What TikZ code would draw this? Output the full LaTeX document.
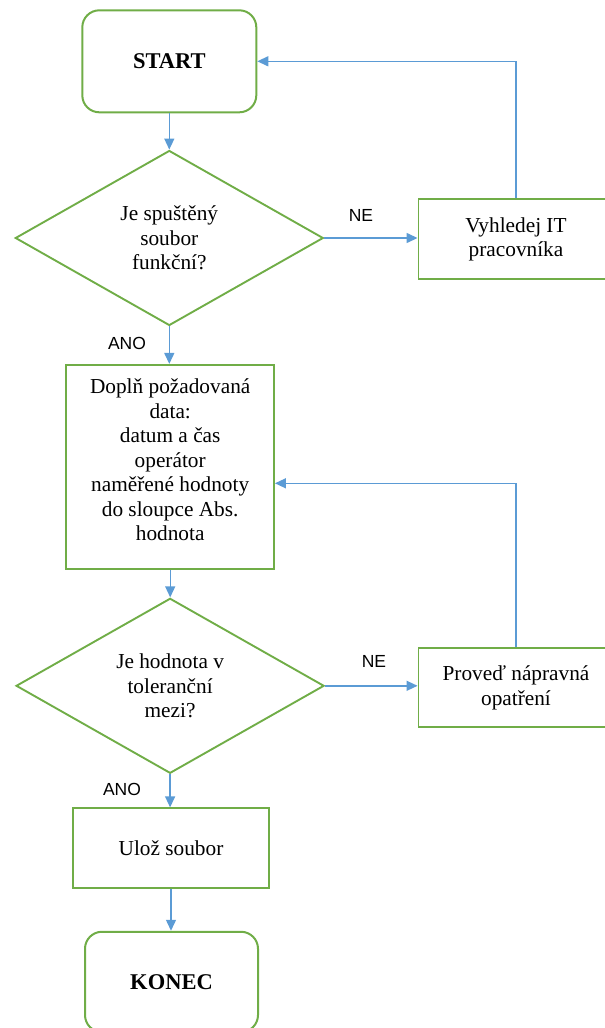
\documentclass[tikz,border=0pt]{standalone}
\usepackage{fontspec}
\setmainfont{Liberation Serif}
\newfontfamily\labelfont{Liberation Sans}
\usetikzlibrary{shapes.geometric,arrows.meta}
\definecolor{boxgreen}{HTML}{70AD47}
\definecolor{flowblue}{HTML}{5B9BD5}

\begin{document}
\begin{tikzpicture}[x=1pt,y=-1pt,
  every node/.style={font=\fontsize{21.3}{24.5}\selectfont, align=center, inner sep=0pt},
  terminal/.style={draw=boxgreen, line width=2pt, rounded corners=17pt,
    minimum width=174pt, minimum height=102pt,
    font=\fontsize{22.5}{26}\selectfont\bfseries},
  procbox/.style={draw=boxgreen, line width=1.9pt, rectangle},
  decision/.style={draw=boxgreen, line width=1.9pt, diamond, aspect=1.76,
    minimum width=308pt, minimum height=175pt},
  flow/.style={draw=flowblue, line width=1.4pt, -{Triangle[length=11pt,width=10pt]}},
  answer/.style={font=\labelfont\fontsize{17.5}{20}\selectfont}
]
\useasboundingbox (0,0) rectangle (605,1028);

% main column
\node[terminal] (start) at (169.3,61.3) {START};
\node[decision] (q1) at (169.3,238) {Je spuštěný\\soubor\\funkční?};
\node[procbox, minimum width=207.6pt, minimum height=204.3pt] (fill) at (170.2,467) {};
\node (filltext) at (170.2,460) {Doplň požadovaná\\data:\\datum a čas\\operátor\\naměřené hodnoty\\do sloupce Abs.\\hodnota};
\node[decision] (q2) at (170.1,685.8) {Je hodnota v\\toleranční\\mezi?};
\node[procbox, minimum width=195.3pt, minimum height=79.4pt] (save) at (171,848) {Ulož soubor};
\node[terminal, minimum width=173pt, minimum height=100.3pt] (end) at (171.5,981.9) {KONEC};

% side branches
\node[procbox, minimum width=195pt, minimum height=80pt] (it) at (516,239.3) {Vyhledej IT\\pracovníka};
\node[procbox, minimum width=195pt, minimum height=79pt] (fix) at (516,687.8) {Proveď nápravná\\opatření};

% connectors
\draw[flow] (start.south) -- (start.south |- q1.north);
\draw[flow] (q1.east) -- (q1.east -| it.west);
\draw[flow] (it.north) |- (start.east);
\draw[flow] (q1.south) -- (q1.south |- fill.north);
\draw[flow] (fill.south) -- (fill.south |- q2.north);
\draw[flow] (q2.east) -- (q2.east -| fix.west);
\draw[flow] (fix.north) |- ([yshift=-16.3pt]fill.east);
\draw[flow] (q2.south) -- (q2.south |- save.north);
\draw[flow] (save.south) -- (save.south |- end.north);

% answer labels
\node[answer] (ne1) at (361,215) {NE};
\node[answer] (ano1) at (127,343) {ANO};
\node[answer] (ne2) at (374,661) {NE};
\node[answer] (ano2) at (122,789) {ANO};
\end{tikzpicture}
\end{document}
